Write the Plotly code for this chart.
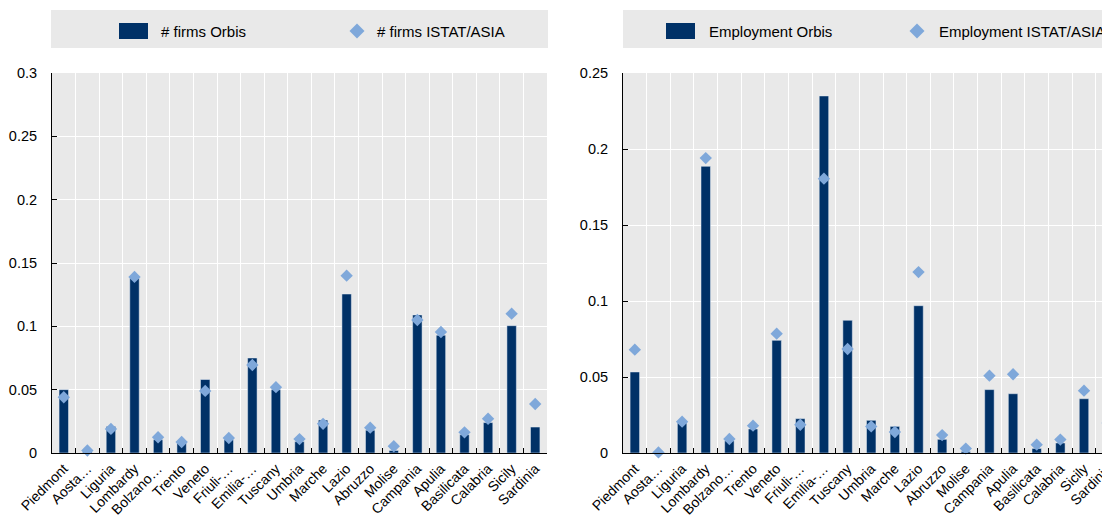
import plotly.graph_objects as go

regions = ["Piedmont", "Aosta…", "Liguria", "Lombardy", "Bolzano…", "Trento", "Veneto",
           "Friuli-…", "Emilia-…", "Tuscany", "Umbria", "Marche", "Lazio", "Abruzzo",
           "Molise", "Campania", "Apulia", "Basilicata", "Calabria", "Sicily", "Sardinia"]

firms_orbis = [0.050, 0.001, 0.021, 0.138, 0.0105, 0.008, 0.058, 0.0105, 0.075, 0.050, 0.009,
               0.026, 0.1255, 0.018, 0.002, 0.109, 0.093, 0.0145, 0.024, 0.1005, 0.0205]
firms_istat = [0.044, 0.002, 0.019, 0.139, 0.0124, 0.0087, 0.049, 0.0118, 0.0695, 0.052, 0.011,
               0.023, 0.140, 0.020, 0.0053, 0.105, 0.0955, 0.0163, 0.027, 0.110, 0.0387]

emp_orbis = [0.0533, 0.0005, 0.0197, 0.1886, 0.008, 0.0158, 0.0741, 0.0226, 0.2349, 0.0873, 0.0215,
             0.0175, 0.0969, 0.009, 0.001, 0.0417, 0.039, 0.003, 0.0066, 0.0357, 0.0088]
emp_istat = [0.068, 0.0004, 0.0206, 0.194, 0.0092, 0.018, 0.0785, 0.0186, 0.1805, 0.0684, 0.0175,
             0.0138, 0.119, 0.0118, 0.0029, 0.0509, 0.0518, 0.0055, 0.0088, 0.041, 0.0197]

legend_left = ["# firms Orbis", "# firms ISTAT/ASIA"]
legend_right = ["Employment Orbis", "Employment ISTAT/ASIA"]

OFF = 8                      # page body margin
W, H = 1110 - OFF, 517 - OFF
NAVY = "#003167"
LIGHT = "#7FA8DA"
GRAY = "#E9E9E9"
FONT = "Liberation Sans, Arial, sans-serif"


def px(x):
    return (x - OFF) / W


def py(y):
    return 1 - (y - OFF) / H


fig = go.Figure()

fig.add_trace(go.Bar(x=regions, y=firms_orbis, name=legend_left[0], marker_color=NAVY,
                     width=0.4, xaxis="x", yaxis="y", showlegend=False))
fig.add_trace(go.Scatter(x=regions, y=firms_istat, name=legend_left[1], mode="markers",
                         marker=dict(symbol="diamond", size=9.5, color=LIGHT),
                         xaxis="x", yaxis="y", showlegend=False, cliponaxis=False))
fig.add_trace(go.Bar(x=regions, y=emp_orbis, name=legend_right[0], marker_color=NAVY,
                     width=0.4, xaxis="x2", yaxis="y2", showlegend=False))
fig.add_trace(go.Scatter(x=regions, y=emp_istat, name=legend_right[1], mode="markers",
                         marker=dict(symbol="diamond", size=9.5, color=LIGHT),
                         xaxis="x2", yaxis="y2", showlegend=False, cliponaxis=False))

xcommon = dict(type="category", tickson="boundaries", ticks="inside", ticklen=5,
               tickcolor="black", showline=True, linecolor="black", linewidth=1,
               showgrid=True, gridcolor="white", gridwidth=1.3, tickangle=-45,
               automargin=False, ticklabelstandoff=1,
               tickfont=dict(family=FONT, size=14, color="black"), fixedrange=True)
ycommon = dict(ticks="inside", ticklen=5, tickcolor="black", showline=True,
               linecolor="black", linewidth=1, showgrid=True, gridcolor="white",
               gridwidth=1.3, dtick=0.05, tick0=0, zeroline=False, automargin=False,
               tickfont=dict(family=FONT, size=14.5, color="black"), ticklabelstandoff=11)

ydom = [py(453), py(73)]

fig.update_layout(
    width=W, height=H,
    margin=dict(l=0, r=0, t=0, b=0, autoexpand=False),
    paper_bgcolor="white", plot_bgcolor=GRAY,
    showlegend=False,
    xaxis=dict(domain=[px(52), px(547)], range=[-0.5, 20.5], anchor="y", **xcommon),
    yaxis=dict(domain=ydom, range=[0, 0.3], anchor="x", **ycommon),
    xaxis2=dict(domain=[px(623), 1], range=[-0.5, 20.1], anchor="y2", **xcommon),
    yaxis2=dict(domain=ydom, range=[0, 0.25], anchor="x2", **ycommon),
)

shapes = []
# legend boxes
for (x0, x1) in [(51, 548), (623, 1112)]:
    shapes.append(dict(type="rect", xref="paper", yref="paper", x0=px(x0), x1=px(x1),
                       y0=py(48), y1=py(10), fillcolor=GRAY, line=dict(width=0), layer="below"))

annotations = []


def legend_items(rect_x, diamond_x, text1_x, text2_x, labels):
    shapes.append(dict(type="rect", xref="paper", yref="paper", x0=px(rect_x), x1=px(rect_x + 29),
                       y0=py(39), y1=py(23), fillcolor=NAVY, line=dict(width=0)))
    cy = 31
    r = 7.5
    path = (f"M {px(diamond_x - r)},{py(cy)} L {px(diamond_x)},{py(cy - r)} "
            f"L {px(diamond_x + r)},{py(cy)} L {px(diamond_x)},{py(cy + r)} Z")
    shapes.append(dict(type="path", xref="paper", yref="paper", path=path,
                       fillcolor=LIGHT, line=dict(width=0)))
    for tx, lab in [(text1_x, labels[0]), (text2_x, labels[1])]:
        annotations.append(dict(text=lab, xref="paper", yref="paper", x=px(tx), y=py(cy),
                                xanchor="left", yanchor="middle", showarrow=False,
                                font=dict(family=FONT, size=15, color="black")))


legend_items(119, 357, 159, 375, legend_left)
legend_items(666, 917, 707, 937, legend_right)

fig.update_layout(shapes=shapes, annotations=annotations)

fig.write_html("out.html")
